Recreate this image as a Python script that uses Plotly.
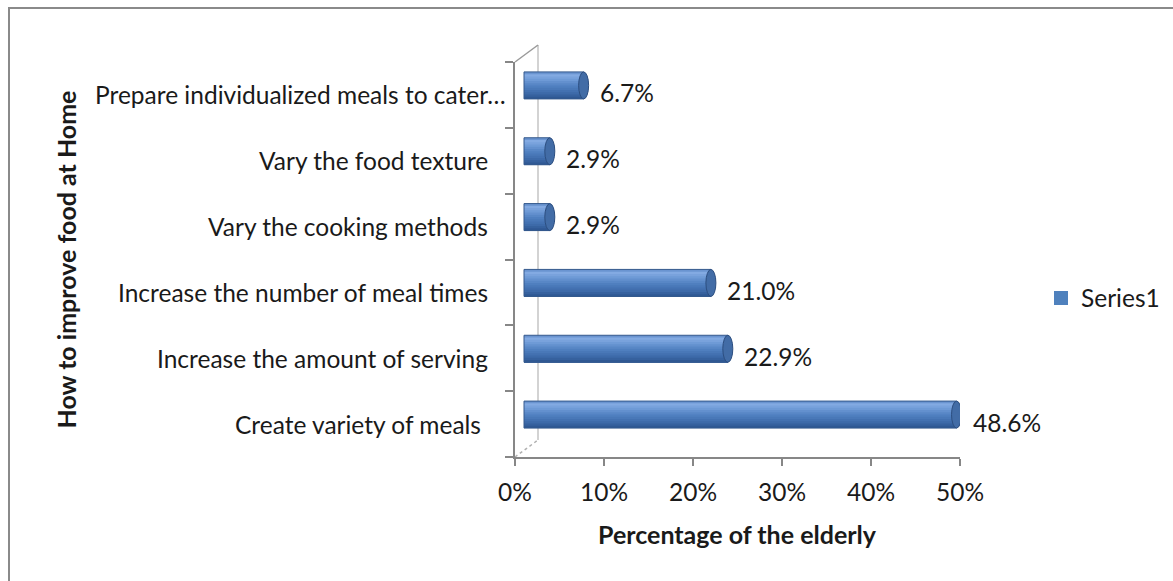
import plotly.graph_objects as go

# ---- data -------------------------------------------------------------
categories = [
    "Create variety of meals",
    "Increase the amount of serving",
    "Increase the number of meal times",
    "Vary the cooking methods",
    "Vary the food texture",
    "Prepare individualized meals to cater…",
]
values = [48.6, 22.9, 21.0, 2.9, 2.9, 6.7]
x_tick_values = [0, 10, 20, 30, 40, 50]
x_tick_labels = ["0%", "10%", "20%", "30%", "40%", "50%"]
series_name = "Series1"
x_title = "Percentage of the elderly"
y_title = "How to improve food at Home"

# ---- geometry (pixels) -------------------------------------------------
W, H = 1173, 581
X0, X1 = 515, 960          # front x axis: 0% .. 50%
YT, YB = 62, 457           # front category axis: top .. bottom
WALL_DX, WALL_DY = 23, 17  # depth of the side wall
BAR_DX, BAR_DY = 9, 9.5    # bars sit half way into the depth
BAR_PX = 27                # cylinder thickness
CAP_PX = 5                 # half width of the end ellipse
LABEL_RIGHT = 490          # right edge of the category labels
# small horizontal nudges of individual category labels (px)
label_nudge = {0: -7, 5: 18}
FONT = "Lato"
FS = 24.5
FS_TITLE = 25


def fx(px):
    return px / W


def fy(py):
    return 1 - py / H


x_max = x_tick_values[-1]
ppu = (X1 - X0) / x_max
n = len(categories)
cat_px = (YB - YT) / n
bar_w = BAR_PX / cat_px
dx_u = BAR_DX / ppu
dy_u = BAR_DY / cat_px

# vertical shading of the cylinder, top -> bottom
profile = [
    (0.00, (92, 136, 198)),
    (0.12, (132, 170, 226)),
    (0.28, (112, 155, 215)),
    (0.50, (82, 130, 194)),
    (0.75, (64, 110, 174)),
    (1.00, (44, 84, 142)),
]


def shade(t):
    for (t0, c0), (t1, c1) in zip(profile, profile[1:]):
        if t0 <= t <= t1:
            f = (t - t0) / (t1 - t0)
            return "rgb(%d,%d,%d)" % tuple(round(a + (b - a) * f) for a, b in zip(c0, c1))
    return "rgb(%d,%d,%d)" % profile[-1][1]


fig = go.Figure()

# each band runs from the bottom of the cylinder up to its own top edge,
# so later (lower) bands overlap earlier ones without seams
N_BANDS = 12
step = bar_w / N_BANDS
for k in range(N_BANDS):
    t = (k + 0.5) / N_BANDS
    fig.add_trace(go.Bar(
        x=values, y=categories, orientation="h",
        xaxis="x2", yaxis="y2",
        width=bar_w - k * step, offset=-bar_w / 2,
        marker=dict(color=shade(t), line=dict(width=0)),
        showlegend=False, hoverinfo="skip",
    ))

# outline of each cylinder body
fig.add_trace(go.Bar(
    x=values, y=categories, orientation="h",
    xaxis="x2", yaxis="y2",
    width=bar_w, offset=-bar_w / 2,
    marker=dict(color="rgba(0,0,0,0)", line=dict(color="rgb(52,88,140)", width=1)),
    showlegend=False, hoverinfo="skip",
))

# legend entry (sits on the front axes so they are drawn)
fig.add_trace(go.Scatter(
    x=[None], y=[categories[0]], mode="markers",
    xaxis="x", yaxis="y", name=series_name,
    marker=dict(symbol="square", size=14, color="rgb(79,129,189)", line=dict(width=0)),
    showlegend=True,
))

shapes = []
# end caps of the cylinders
cap_u = CAP_PX / ppu
for i, v in enumerate(values):
    shapes.append(dict(
        type="circle", xref="x2", yref="y2", layer="above",
        x0=v - cap_u, x1=v + cap_u, y0=i - bar_w / 2, y1=i + bar_w / 2,
        fillcolor="rgb(66,108,166)", line=dict(color="rgb(44,78,128)", width=1),
    ))

# side wall edges of the 3-D frame
shapes += [
    dict(type="line", xref="paper", yref="paper", layer="below",
         x0=fx(X0 + WALL_DX), y0=fy(YT - WALL_DY), x1=fx(X0 + WALL_DX), y1=fy(YB - WALL_DY),
         line=dict(color="#c4c4c4", width=1.5)),
    dict(type="line", xref="paper", yref="paper", layer="below",
         x0=fx(X0), y0=fy(YT), x1=fx(X0 + WALL_DX), y1=fy(YT - WALL_DY),
         line=dict(color="#9a9a9a", width=1.5)),
    dict(type="line", xref="paper", yref="paper", layer="below",
         x0=fx(X0), y0=fy(YB), x1=fx(X0 + WALL_DX), y1=fy(YB - WALL_DY),
         line=dict(color="#b0b0b0", width=1.5, dash="dot")),
    # chart area border
    dict(type="rect", xref="paper", yref="paper", layer="above",
         x0=fx(9), y0=fy(8), x1=fx(W + 20), y1=fy(H + 20),
         line=dict(color="#8a8a8a", width=2), fillcolor="rgba(0,0,0,0)"),
]

annotations = []
# category labels
for i, c in enumerate(categories):
    annotations.append(dict(
        xref="paper", yref="y", x=fx(LABEL_RIGHT), y=c, text=c,
        showarrow=False, xanchor="right", yanchor="middle",
        xshift=label_nudge.get(i, 0),
        font=dict(family=FONT, size=FS, color="#1a1a1a"),
    ))
# value labels
for i, v in enumerate(values):
    annotations.append(dict(
        xref="x2", yref="y", x=v, y=categories[i], text=f"{v:.1f}%",
        showarrow=False, xanchor="left", yanchor="middle",
        xshift=CAP_PX + 9, yshift=2,
        font=dict(family=FONT, size=FS, color="#1a1a1a"),
    ))
annotations.append(dict(
    xref="paper", yref="paper", x=fx((X0 + X1) / 2), y=fy(534), text=f"<b>{x_title}</b>",
    showarrow=False, xanchor="center", yanchor="middle",
    font=dict(family=FONT, size=FS_TITLE, color="#1a1a1a"),
))
annotations.append(dict(
    xref="paper", yref="paper", x=fx(65), y=fy((YT + YB) / 2), text=f"<b>{y_title}</b>",
    showarrow=False, xanchor="center", yanchor="middle", textangle=-90,
    font=dict(family=FONT, size=FS_TITLE, color="#1a1a1a"),
))

axis_gray = "#878787"
x_dom = [fx(X0), fx(X1)]
y_dom = [fy(YB), fy(YT)]

fig.update_layout(
    width=W, height=H,
    margin=dict(l=0, r=0, t=0, b=0, autoexpand=False),
    paper_bgcolor="white", plot_bgcolor="rgba(0,0,0,0)",
    barmode="overlay",
    font=dict(family=FONT, size=FS, color="#1a1a1a"),
    xaxis=dict(
        domain=x_dom, range=[0, x_max], fixedrange=True, automargin=False,
        tickvals=x_tick_values, ticktext=x_tick_labels,
        showline=True, linecolor=axis_gray, linewidth=2,
        ticks="outside", ticklen=7, tickwidth=2, tickcolor=axis_gray,
        showgrid=False, zeroline=False, ticklabelstandoff=6,
        anchor="y",
    ),
    yaxis=dict(
        domain=y_dom, type="category", categoryorder="array", categoryarray=categories,
        range=[-0.5, n - 0.5], fixedrange=True, automargin=False,
        showline=True, linecolor=axis_gray, linewidth=2,
        ticks="outside", ticklen=8, tickwidth=2, tickcolor=axis_gray,
        tickson="boundaries", showgrid=False, zeroline=False,
        showticklabels=False, anchor="x",
    ),
    xaxis2=dict(
        domain=x_dom, range=[-dx_u, x_max - dx_u], overlaying="x",
        visible=False, fixedrange=True, anchor="y2",
    ),
    yaxis2=dict(
        domain=y_dom, type="category", categoryorder="array", categoryarray=categories,
        range=[-0.5 - dy_u, n - 0.5 - dy_u], overlaying="y",
        visible=False, fixedrange=True, anchor="x2",
    ),
    legend=dict(
        x=fx(1041), y=fy(298), xanchor="left", yanchor="middle",
        bgcolor="rgba(0,0,0,0)", borderwidth=0,
        font=dict(family=FONT, size=FS, color="#1a1a1a"),
    ),
    shapes=shapes,
    annotations=annotations,
)

fig.write_html("out.html")
